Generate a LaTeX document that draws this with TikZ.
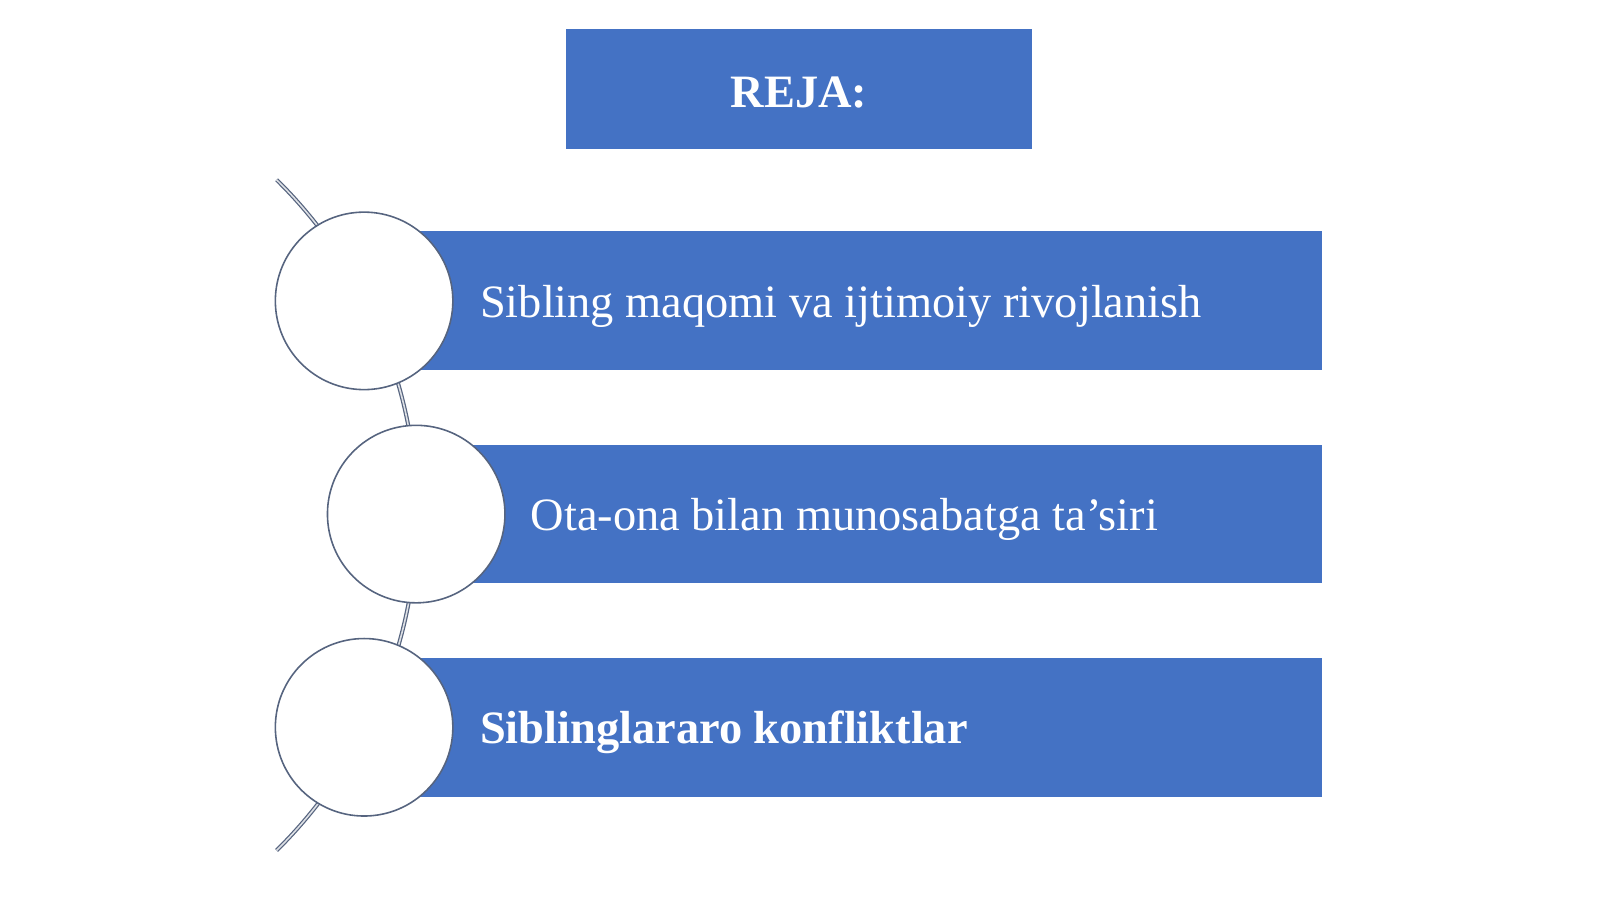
\documentclass[tikz,border=0pt]{standalone}
\usepackage{fontspec}
\setmainfont{Liberation Serif}
\usepackage{tikz}
\usetikzlibrary{calc}
\definecolor{rejablue}{HTML}{4472C4}
\definecolor{rimgray}{HTML}{56647F}

\begin{document}
\begin{tikzpicture}[
    bar/.style={fill=rejablue, draw=none},
    ball/.style={circle, fill=white, draw=rimgray, line width=0.45pt, minimum size=1.775cm, inner sep=0pt},
    item/.style={text=white, anchor=west, font=\fontsize{13.2}{15.5}\selectfont, inner sep=0pt}
]
            \useasboundingbox (0,0) rectangle (16,8.99);
            \node[bar, minimum width=4.66cm, minimum height=1.20cm] (title) at (7.99,8.10) {};
            \node[text=white, font=\bfseries\fontsize{13.2}{15.5}\selectfont] (reja) at (7.99,8.06) {REJA:};

            \coordinate (hub) at (-0.541,3.839);
            \draw[rimgray, line width=0.35pt, double=white!80!rimgray, double distance=0.45pt]
                ($(hub)+(45.4:4.71)$) arc (45.4:-45.4:4.71);

            \fill[rejablue] (3.641,5.287) rectangle (13.219,6.675);
            \fill[rejablue] (4.162,3.156) rectangle (13.219,4.543);
            \fill[rejablue] (3.641,1.024) rectangle (13.219,2.411);

            \node[ball] (c1) at (3.641,5.981) {};
            \node[ball] (c2) at (4.162,3.849) {};
            \node[ball] (c3) at (3.641,1.717) {};

            \node[item] (t1) at (4.794,5.93) {Sibling maqomi va ijtimoiy rivojlanish};
            \node[item] (t2) at (5.30,3.80) {Ota-ona bilan munosabatga ta’siri};
            \node[item, font=\bfseries\fontsize{13.2}{15.5}\selectfont] (t3) at (4.794,1.67) {Siblinglararo konfliktlar};
        \end{tikzpicture}
\end{document}
